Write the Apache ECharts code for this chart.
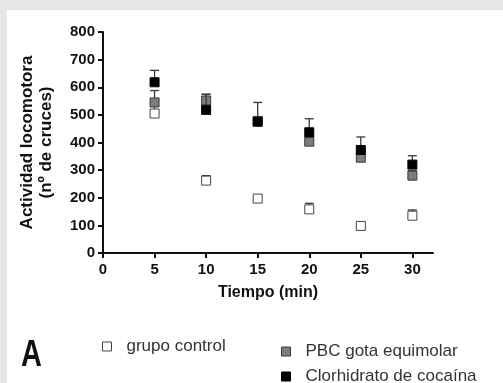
<!DOCTYPE html>
<html>
<head>
<meta charset="utf-8">
<script src="https://cdn.jsdelivr.net/npm/echarts@6/dist/echarts.min.js"></script>
<style>
  html, body { margin: 0; padding: 0; background: #e5e6e8; }
  #chart { width: 503px; height: 383px; }
</style>
</head>
<body>
<div id="chart"></div>
<script>
// tiempo (min)
const minutes = [5, 10, 15, 20, 25, 30]

// media y limite superior del error, por grupo
const controlMean = [505, 262, 197, 158, 98, 135]
const controlUpper = [535, 280, 197, 180, 98, 156]
const pbcMean = [545, 552, 478, 403, 345, 280]
const pbcUpper = [588, 575, 478, 421, 368, 298]
const cocaMean = [618, 518, 475, 437, 373, 320]
const cocaUpper = [661, 574, 545, 486, 420, 352]

const xTicks = [0, 5, 10, 15, 20, 25, 30]

const FONT = '"Liberation Sans", Arial, sans-serif'

const groups = [
  {name: 'grupo control', mean: controlMean, upper: controlUpper, fill: '#ffffff', border: '#444'},
  {name: 'PBC gota equimolar', mean: pbcMean, upper: pbcUpper, fill: '#7d7d7d', border: '#3a3a3a'},
  {name: 'Clorhidrato de cocaína', mean: cocaMean, upper: cocaUpper, fill: '#000000', border: '#000'}
]

const errorBar = (params, api) => {
  const x = api.value(0)
  const lo = api.value(1)
  const hi = api.value(2)
  if (hi <= lo) return null
  const p0 = api.coord([x, lo])
  const p1 = api.coord([x, hi])
  const st = {stroke: '#3a3a3a', lineWidth: 1.3}
  return {
    type: 'group',
    children: [
      {type: 'line', shape: {x1: p0[0], y1: p0[1], x2: p1[0], y2: p1[1]}, style: st},
      {type: 'line', shape: {x1: p1[0] - 4.5, y1: p1[1], x2: p1[0] + 4.5, y2: p1[1]}, style: st}
    ]
  }
}

const series = []
groups.forEach((g, i) => {
  series.push({
    name: g.name + '-err',
    type: 'custom',
    renderItem: errorBar,
    z: 2 + i * 2,
    data: minutes.map((m, k) => [m, g.mean[k], g.upper[k]]),
    silent: true
  })
  series.push({
    name: g.name,
    type: 'scatter',
    symbol: 'rect',
    symbolSize: 9,
    z: 3 + i * 2,
    itemStyle: {color: g.fill, borderColor: g.border, borderWidth: 1, opacity: 1},
    data: minutes.map((m, k) => [m, g.mean[k]])
  })
})

const legendAt = (g, left, top) => ({
  left: left,
  top: top,
  padding: 0,
  icon: 'rect',
  itemWidth: 9,
  itemHeight: 9,
  selectedMode: false,
  textStyle: {fontFamily: FONT, fontSize: 17, color: '#333', padding: [0, 0, 0, 10]},
  data: [{name: g.name, itemStyle: {color: g.fill, borderColor: g.border, borderWidth: 1}}]
})

const chart = echarts.init(document.getElementById('chart'))
chart.setOption({
  backgroundColor: '#e5e6e8',
  animation: false,
  graphic: [
    {type: 'rect', left: 7, top: 10, z: -10, shape: {width: 496, height: 373}, style: {fill: '#ffffff'}},
    {
      type: 'text', left: 21, top: 337, scaleX: 0.78,
      style: {text: 'A', font: 'bold 37px ' + FONT, fill: '#111'}
    }
  ],
  legend: [
    legendAt(groups[0], 102, 338),
    legendAt(groups[1], 281, 343),
    legendAt(groups[2], 281, 368)
  ],
  grid: {left: 103, right: 70, top: 32, bottom: 130},
  xAxis: {
    type: 'value',
    min: 0,
    max: 32,
    interval: 5,
    name: 'Tiempo (min)',
    nameLocation: 'middle',
    nameGap: 32,
    nameTextStyle: {fontFamily: FONT, fontSize: 16, fontWeight: 'bold', color: '#111'},
    axisLine: {lineStyle: {color: '#111', width: 2}},
    axisTick: {customValues: xTicks, length: 5, lineStyle: {color: '#111', width: 2}},
    axisLabel: {customValues: xTicks, margin: 9, fontFamily: FONT, fontSize: 15, fontWeight: 'bold', color: '#111'},
    splitLine: {show: false}
  },
  yAxis: {
    type: 'value',
    min: 0,
    max: 800,
    interval: 100,
    name: 'Actividad locomotora\n(nº de cruces)',
    nameLocation: 'middle',
    nameRotate: 90,
    nameGap: 47,
    nameTextStyle: {fontFamily: FONT, fontSize: 17, fontWeight: 'bold', color: '#111', lineHeight: 19},
    axisLine: {show: true, lineStyle: {color: '#111', width: 2}},
    axisTick: {show: true, length: 5, lineStyle: {color: '#111', width: 2}},
    axisLabel: {margin: 8, fontFamily: FONT, fontSize: 15, fontWeight: 'bold', color: '#111'},
    splitLine: {show: false}
  },
  series: series
})
</script>
</body>
</html>
